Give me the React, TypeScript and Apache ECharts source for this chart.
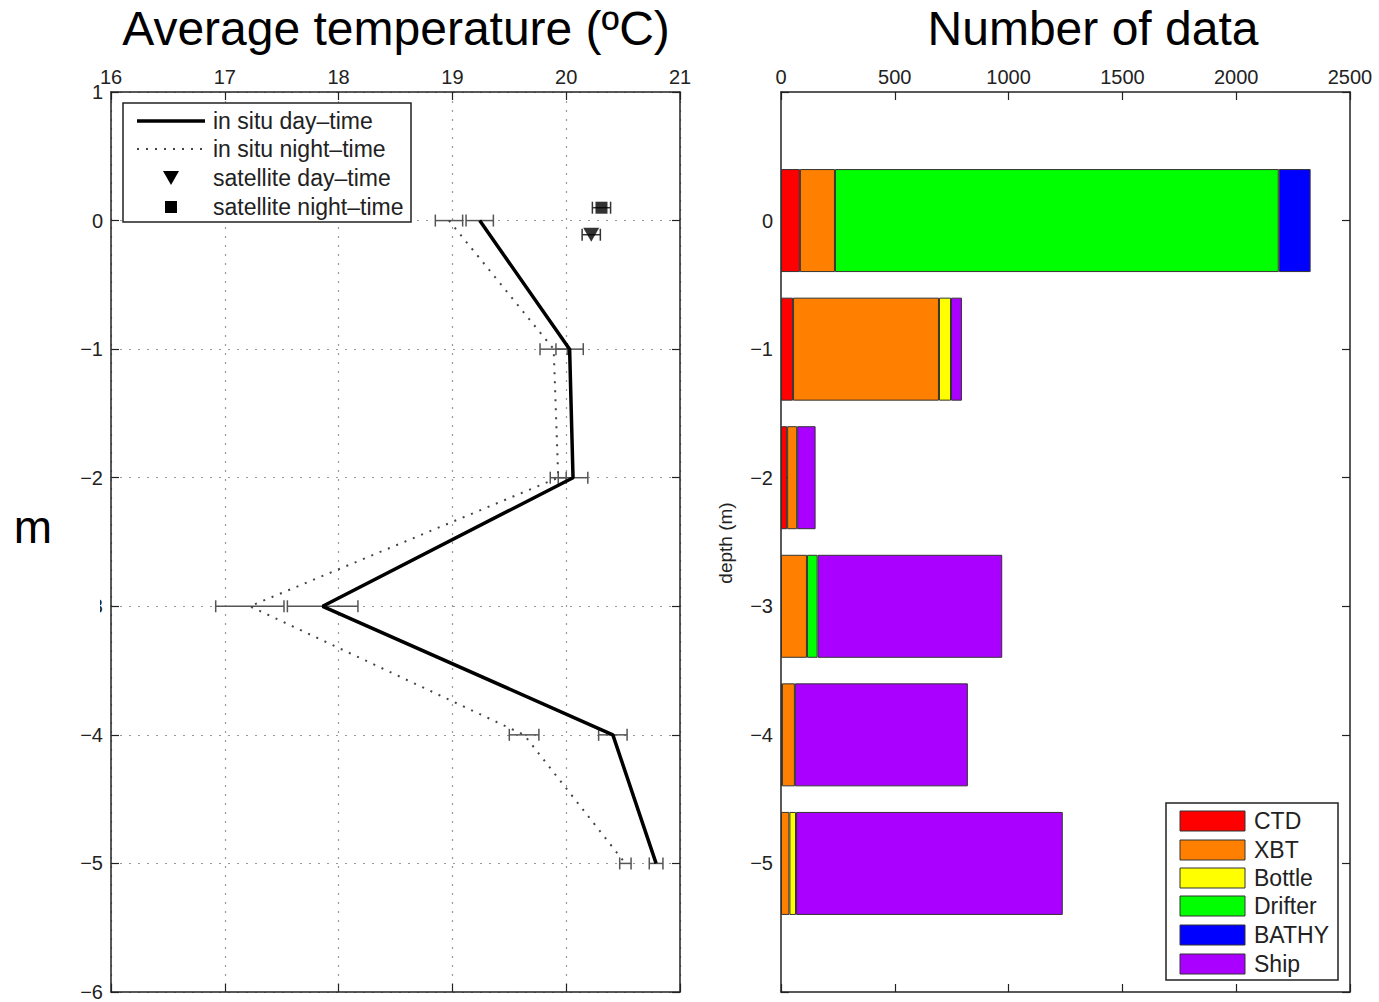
import React, { useEffect, useRef } from "react";
import * as echarts from "echarts";

// ---------- data ----------
const depths = [0, -1, -2, -3, -4, -5];
const dayTemp = [19.24, 20.03, 20.06, 17.86, 20.41, 20.79];
const dayErr = [0.12, 0.12, 0.13, 0.31, 0.125, 0.06];
const nightTemp = [18.97, 19.89, 19.93, 17.22, 19.63, 20.52];
const nightErr = [0.12, 0.12, 0.07, 0.3, 0.13, 0.05];
const satDay = [20.22, -0.11];
const satNight = [20.31, 0.1];
const satErr = 0.08;

const tempTicks = [16, 17, 18, 19, 20, 21];
const depthCats = ["−6", "−5", "−4", "−3", "−2", "−1", "0", "1"];

const sourceNames = ["CTD", "XBT", "Bottle", "Drifter", "BATHY", "Ship"];
const sourceColors = ["#ff0000", "#ff8000", "#ffff00", "#00ff00", "#0000ff", "#aa00ff"];
// counts at depths 0, -1, -2, -3, -4, -5
const ctd = [83, 53, 27, 0, 4, 0];
const xbt = [154, 641, 44, 114, 57, 37];
const bottle = [0, 53, 0, 0, 0, 29];
const drifter = [1950, 0, 0, 47, 0, 0];
const bathy = [140, 0, 0, 0, 0, 0];
const ship = [0, 48, 81, 811, 760, 1172];
const sourceValues = [ctd, xbt, bottle, drifter, bathy, ship];

const FONT = "Liberation Sans, Arial, Helvetica, sans-serif";
const minus = (v: number) => (v < 0 ? "\u2212" + Math.abs(v) : String(v));

function errorBarSeries(data: number[][], color: string) {
  return {
    type: "custom",
    xAxisIndex: 0,
    yAxisIndex: 0,
    z: 3,
    data,
    renderItem: (_p: any, api: any) => {
      const x = api.value(0);
      const y = api.value(1);
      const e = api.value(2);
      const a = api.coord([x - e, y]);
      const b = api.coord([x + e, y]);
      const h = 6;
      const st = { stroke: color, lineWidth: 1.5 };
      return {
        type: "group",
        children: [
          { type: "line", shape: { x1: a[0], y1: a[1], x2: b[0], y2: b[1] }, style: st },
          { type: "line", shape: { x1: a[0], y1: a[1] - h, x2: a[0], y2: a[1] + h }, style: st },
          { type: "line", shape: { x1: b[0], y1: b[1] - h, x2: b[0], y2: b[1] + h }, style: st },
        ],
      };
    },
  };
}

export default function App() {
  const ref = useRef<HTMLDivElement>(null);
  useEffect(() => {
    if (!ref.current) return;
    const chart = echarts.init(ref.current, undefined, { renderer: "svg" });

    const axisLine = { show: true, onZero: false, lineStyle: { color: "#222", width: 1.5 } };
    const tick = { show: true, inside: true, length: 8, lineStyle: { color: "#222", width: 1.2 } };
    const label = { color: "#222", fontSize: 20, fontFamily: FONT };
    const dotted = { show: true, lineStyle: { color: "#999", type: [2, 7], width: 1.2 } };

    const dayLine = depths.map((d, i) => [dayTemp[i], d]);
    const nightLine = depths.map((d, i) => [nightTemp[i], d]);

    const barSeries = sourceNames.map((name, s) => ({
      type: "bar",
      name,
      stack: "total",
      xAxisIndex: 2,
      yAxisIndex: 2,
      barWidth: 103,
      itemStyle: { color: sourceColors[s], borderColor: "#333", borderWidth: 1 },
      data: depthCats.map((_c, i) => {
        if (i < 1 || i > 6) return "-";
        const v = sourceValues[s][6 - i];
        return v > 0 ? v : "-";
      }),
    }));

    const rightRows = [821, 850, 878, 906, 935, 964];
    const leftRows = [121, 149, 178, 207];
    const leftLabels = ["in situ day–time", "in situ night–time", "satellite day–time", "satellite night–time"];

    const graphics: any[] = [
      {
        type: "text", x: 396, y: 28, z: 10,
        style: { text: "Average temperature (ºC)", font: `48px ${FONT}`, fill: "#000", textAlign: "center", textVerticalAlign: "middle" },
      },
      {
        type: "text", x: 1093, y: 28, z: 10,
        style: { text: "Number of data", font: `48px ${FONT}`, fill: "#000", textAlign: "center", textVerticalAlign: "middle" },
      },
      // cover for the hidden "-3" label
      { type: "rect", z: 100, shape: { x: 55, y: 592, width: 45, height: 26 }, style: { fill: "#fff" } },
      {
        type: "text", x: 33, y: 527, z: 101,
        style: { text: "m", font: `46px ${FONT}`, fill: "#000", textAlign: "center", textVerticalAlign: "middle" },
      },
      {
        type: "text", x: 725, y: 543, rotation: Math.PI / 2, z: 10,
        style: { text: "depth (m)", font: `19px ${FONT}`, fill: "#222", textAlign: "center", textVerticalAlign: "middle" },
      },
      // left legend
      { type: "rect", z: 20, shape: { x: 123, y: 103, width: 288, height: 119 }, style: { fill: "#fff", stroke: "#222", lineWidth: 1.5 } },
      { type: "line", z: 21, shape: { x1: 137, y1: leftRows[0], x2: 205, y2: leftRows[0] }, style: { stroke: "#000", lineWidth: 3.5 } },
      { type: "line", z: 21, shape: { x1: 137, y1: leftRows[1], x2: 205, y2: leftRows[1] }, style: { stroke: "#444", lineWidth: 2, lineDash: [2, 7] } },
      { type: "polygon", z: 21, shape: { points: [[163, leftRows[2] - 7], [179, leftRows[2] - 7], [171, leftRows[2] + 7]] }, style: { fill: "#000" } },
      { type: "rect", z: 21, shape: { x: 165, y: leftRows[3] - 6, width: 12, height: 12 }, style: { fill: "#000" } },
      ...leftLabels.map((t, i) => ({
        type: "text", x: 213, y: leftRows[i], z: 21,
        style: { text: t, font: `23px ${FONT}`, fill: "#222", textVerticalAlign: "middle" },
      })),
      // right legend
      { type: "rect", z: 20, shape: { x: 1166, y: 803, width: 172, height: 177 }, style: { fill: "#fff", stroke: "#222", lineWidth: 1.5 } },
      ...sourceNames.map((_n, i) => ({
        type: "rect", z: 21,
        shape: { x: 1180, y: rightRows[i] - 10, width: 65, height: 20 },
        style: { fill: sourceColors[i], stroke: "#333", lineWidth: 1 },
      })),
      ...sourceNames.map((n, i) => ({
        type: "text", x: 1254, y: rightRows[i], z: 21,
        style: { text: n, font: `23px ${FONT}`, fill: "#222", textVerticalAlign: "middle" },
      })),
    ];

    chart.setOption({
      animation: false,
      backgroundColor: "#fff",
      grid: [
        { left: 111, right: 699, top: 92, bottom: 10 },
        { left: 781, right: 29, top: 92, bottom: 10 },
      ],
      xAxis: [
        {
          gridIndex: 0, type: "value", position: "top", min: tempTicks[0], max: tempTicks[tempTicks.length - 1], interval: 1,
          axisLine, axisTick: tick, axisLabel: { ...label, margin: 5, formatter: (v: number) => String(v) }, splitLine: dotted,
        },
        {
          gridIndex: 0, type: "value", position: "bottom", min: 16, max: 21, interval: 1,
          axisLine, axisTick: tick, axisLabel: { show: false }, splitLine: { show: false },
        },
        {
          gridIndex: 1, type: "value", position: "top", min: 0, max: 2500, interval: 500,
          axisLine, axisTick: tick, axisLabel: { ...label, margin: 5, formatter: (v: number) => String(v) }, splitLine: { show: false },
        },
        {
          gridIndex: 1, type: "value", position: "bottom", min: 0, max: 2500, interval: 500,
          axisLine, axisTick: tick, axisLabel: { show: false }, splitLine: { show: false },
        },
      ],
      yAxis: [
        {
          gridIndex: 0, type: "value", position: "left", min: -6, max: 1, interval: 1,
          axisLine, axisTick: tick, axisLabel: { ...label, margin: 8, formatter: (v: any) => minus(Number(v)) }, splitLine: dotted,
        },
        {
          gridIndex: 0, type: "value", position: "right", min: -6, max: 1, interval: 1,
          axisLine, axisTick: tick, axisLabel: { show: false }, splitLine: { show: false },
        },
        {
          gridIndex: 1, type: "category", position: "left", data: depthCats, boundaryGap: false,
          axisLine, axisTick: tick,
          axisLabel: { ...label, margin: 8, formatter: (v: string) => (v === "1" || v === "−6" ? "" : v) },
          splitLine: { show: false },
        },
        {
          gridIndex: 1, type: "category", position: "right", data: depthCats, boundaryGap: false,
          axisLine, axisTick: tick, axisLabel: { show: false }, splitLine: { show: false },
        },
      ],
      series: [
        errorBarSeries(depths.map((d, i) => [nightTemp[i], d, nightErr[i]]), "#555"),
        errorBarSeries(depths.map((d, i) => [dayTemp[i], d, dayErr[i]]), "#555"),
        errorBarSeries([[satDay[0], satDay[1], satErr], [satNight[0], satNight[1], satErr]], "#333"),
        {
          type: "line", name: "in situ night-time", xAxisIndex: 0, yAxisIndex: 0, data: nightLine, symbol: "none", z: 4,
          lineStyle: { color: "#444", width: 2, type: [2, 7] },
        },
        {
          type: "line", name: "in situ day-time", xAxisIndex: 0, yAxisIndex: 0, data: dayLine, symbol: "none", z: 5,
          lineStyle: { color: "#000", width: 3.5 },
        },
        {
          type: "scatter", name: "satellite day-time", xAxisIndex: 0, yAxisIndex: 0, data: [satDay], z: 6,
          symbol: "triangle", symbolRotate: 180, symbolSize: [16, 14], itemStyle: { color: "#000" },
        },
        {
          type: "scatter", name: "satellite night-time", xAxisIndex: 0, yAxisIndex: 0, data: [satNight], z: 6,
          symbol: "rect", symbolSize: 12, itemStyle: { color: "#000" },
        },
        ...barSeries,
      ],
      graphic: graphics,
    });
    return () => chart.dispose();
  }, []);
  return <div ref={ref} style={{ position: "fixed", left: 0, top: 0, width: 1379, height: 1002 }} />;
}
